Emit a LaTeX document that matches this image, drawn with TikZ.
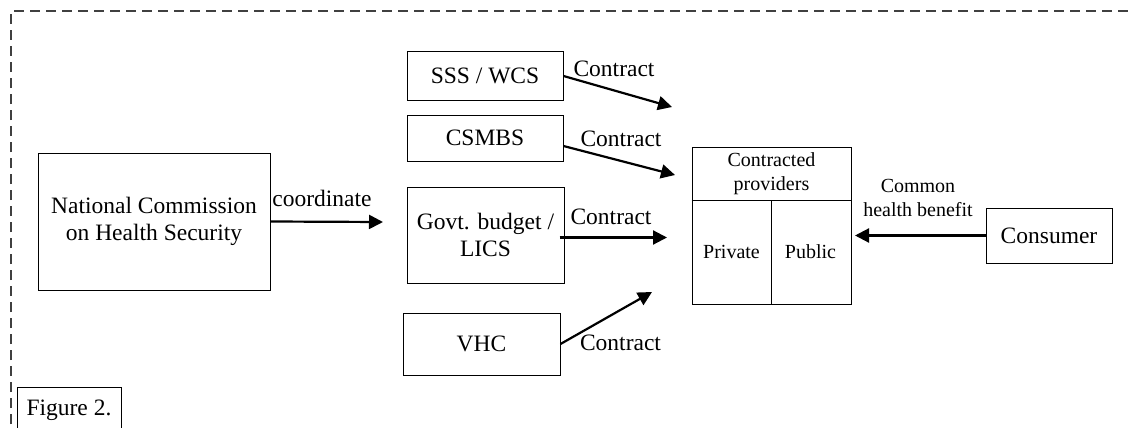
\documentclass[tikz,border=0pt]{standalone}
\usepackage{fontspec}
\setmainfont{Liberation Serif}
\usetikzlibrary{arrows.meta}
\begin{document}
\begin{tikzpicture}[x=1pt,y=-1pt,
  box/.style={draw, line width=1pt, inner sep=0pt, align=center,
    font=\fontsize{23.5}{27.3}\selectfont},
  lbl/.style={inner sep=0pt, font=\fontsize{23.5}{27.3}\selectfont},
  small/.style={inner sep=0pt, align=center, font=\fontsize{20}{24}\selectfont},
  flow/.style={line width=2.2pt, -{Triangle[length=14pt,width=14pt]}},
  frame/.style={line width=1.1pt, black!75, dash pattern=on 10pt off 6pt}]
\useasboundingbox (0,0) rectangle (1132,428);

% dashed outer frame (open at right and bottom)
\draw[frame] (11,440) -- (11,11) -- (1140,11);

% caption tab
\node[lbl, anchor=base] (figtext) at (69,415) {Figure 2.};
\draw[line width=1pt] (17,440) |- (121,387) -- (121,440);

% left: commission
\node[box, minimum width=232pt, minimum height=137pt] (nchs) at (154,221.5)
  {National Commission\\on Health Security};

% middle column: funding schemes
\node[box, minimum width=156pt, minimum height=48pt] (sss) at (485,76) {SSS / WCS};
\node[box, minimum width=156pt, minimum height=46pt] (csmbs) at (485,138) {CSMBS};
\node[box, minimum width=157pt, minimum height=96pt] (govt) at (485.5,235) {Govt. budget /\\LICS};
\node[box, minimum width=157pt, minimum height=62pt] (vhc) at (481.5,344) {VHC};

% right: providers and consumer
\node[box, minimum width=159pt, minimum height=157pt] (prov) at (771.5,225.5) {};
\coordinate (hdr) at (771.5,200);
\draw[line width=1pt] (prov.west |- hdr) -- (prov.east |- hdr);
\draw[line width=1pt] (hdr) -- (prov.south);
\node[small] (provhead) at (771.5,174) {Contracted\\providers};
\node[small, anchor=base] (private) at (731.5,258.3) {Private};
\node[small, anchor=base] (public) at (810.5,258.3) {Public};

\node[box, minimum width=126pt, minimum height=55pt] (consumer) at (1049,235.5) {Consumer};

% arrow end points
\coordinate (tcoord) at (383,222);
\coordinate (tsss) at (672,107);
\coordinate (tcsmbs) at (675,175);
\coordinate (tgovt) at (667,237.5);
\coordinate (tvhc) at (652,292);
\coordinate (tcons) at (855,235.5);

% connectors
\draw[flow] (nchs.east) -- (tcoord);
\draw[flow] (sss.east) -- (tsss);
\draw[flow] ([yshift=-8pt]csmbs.east) -- (tcsmbs);
\draw[flow] ([xshift=-5pt,yshift=-2.5pt]govt.east) -- (tgovt);
\draw[flow] (vhc.east) -- (tvhc);
\draw[flow] (consumer.west) -- (tcons);

% connector labels
\node[lbl, anchor=base] (lcoord) at (322,206.7) {coordinate};
\node[lbl, anchor=base] (lsss) at (614,76.7) {Contract};
\node[lbl, anchor=base] (lcsmbs) at (621,146.7) {Contract};
\node[lbl, anchor=base] (lgovt) at (611,224) {Contract};
\node[lbl, anchor=base] (lvhc) at (620.5,350.7) {Contract};
\node[small] (lcons) at (918,198.2) {Common\\health benefit};
\end{tikzpicture}
\end{document}
